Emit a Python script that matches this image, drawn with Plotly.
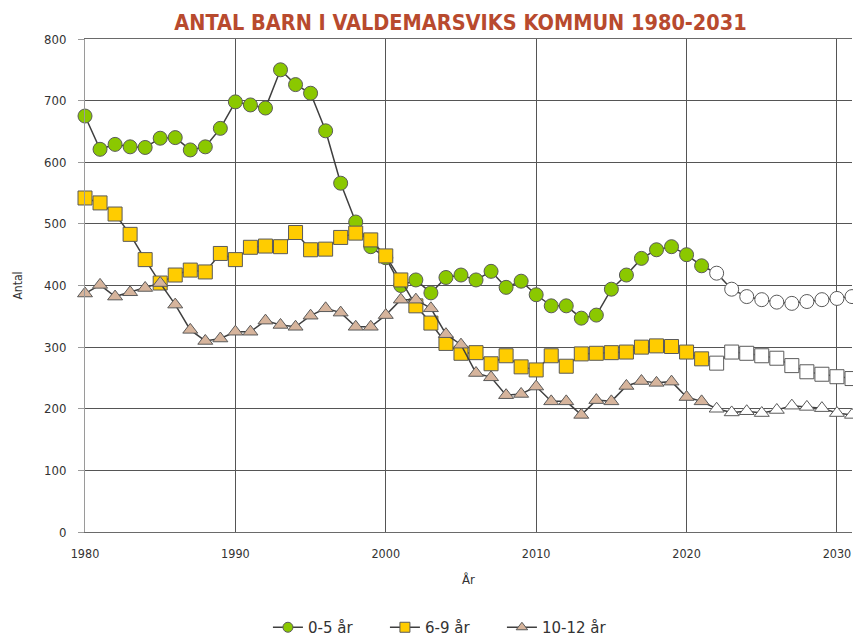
import plotly.graph_objects as go

years = list(range(1980, 2032))
first_projection_year = 2022

age_0_5 = [675, 621, 629, 625, 624, 639, 640, 620, 625, 655,
           698, 693, 688, 750, 726, 712, 651, 566, 503, 463,
           445, 400, 409, 388, 413, 417, 409, 423, 397, 407,
           385, 367, 367, 347, 352, 394, 417, 444, 458, 463,
           450, 432, 420, 394, 382, 377, 373, 371, 374, 377,
           379, 382]
age_6_9 = [542, 534, 516, 483, 442, 404, 417, 425, 422, 452,
           442, 462, 464, 463, 486, 458, 459, 478, 485, 474,
           448, 409, 367, 339, 306, 290, 291, 273, 286, 268,
           263, 286, 269, 289, 290, 291, 292, 300, 302, 301,
           292, 281, 274, 292, 290, 286, 282, 270, 260, 256,
           252, 249]
age_10_12 = [387, 401, 382, 389, 396, 404, 369, 328, 310, 314,
             325, 325, 343, 336, 333, 351, 363, 356, 333, 333,
             352, 377, 377, 363, 321, 304, 258, 251, 222, 224,
             236, 212, 212, 190, 214, 212, 237, 245, 242, 244,
             219, 212, 200, 194, 196, 193, 198, 205, 203, 201,
             193, 190]

series = [
    ("0-5 år", age_0_5, "circle", "#8BC800"),
    ("6-9 år", age_6_9, "square", "#FFCC00"),
    ("10-12 år", age_10_12, "triangle-up", "#D6B49C"),
]

fig = go.Figure()
for name, vals, sym, col in series:
    colors = [col if y < first_projection_year else "#FFFFFF" for y in years]
    fig.add_trace(go.Scatter(
        x=years, y=vals, name=name, mode="lines+markers", showlegend=False,
        line=dict(color="#3F3F3F", width=1.5),
        marker=dict(symbol=sym, size=14 if sym != "triangle-up" else 13,
                    color=colors, line=dict(color="#5A5A5A", width=1)),
        cliponaxis=False,
    ))
# legend entries (smaller symbols as in the reference legend)
for name, vals, sym, col in series:
    fig.add_trace(go.Scatter(
        x=[None], y=[None], name=name, mode="lines+markers",
        line=dict(color="#3F3F3F", width=1.5),
        marker=dict(symbol=sym, size=10, color=col, line=dict(color="#5A5A5A", width=1)),
    ))

fig.update_layout(
    width=853, height=636,
    margin=dict(l=77, r=9, t=31, b=112),
    paper_bgcolor="white", plot_bgcolor="white",
    font=dict(family="DejaVu Sans Condensed, Liberation Sans", size=13, color="#333333"),
    title=dict(text="<b>ANTAL BARN I VALDEMARSVIKS KOMMUN 1980-2031</b>",
               x=0.5305, xanchor="center", y=0.978, yanchor="middle",
               font=dict(family="DejaVu Sans Condensed, Liberation Sans", size=21.5, color="#B84A2E")),
    xaxis=dict(range=[1980, 2031], tickvals=[1980, 1990, 2000, 2010, 2020, 2030],
               showgrid=True, gridcolor="#555555", gridwidth=1.3,
               zeroline=False, showline=True, linecolor="#6A6A6A", mirror=True,
               ticks="", ticklabelstandoff=10,
               tickfont=dict(size=12.5), automargin=False,
               title=dict(text="År", font=dict(size=13), standoff=14)),
    yaxis=dict(range=[0, 800], dtick=100,
               showgrid=True, gridcolor="#555555", gridwidth=1.3,
               zeroline=False, showline=True, linecolor="#9A9A9A",
               ticks="outside", ticklen=6, tickcolor="#9A9A9A",
               ticklabelstandoff=9,
               tickfont=dict(size=13), automargin=False,
               title=dict(text="Antal", font=dict(size=12), standoff=18)),
    legend=dict(orientation="h", x=0.2385, xanchor="left",
                yref="container", y=-0.008, yanchor="bottom",
                entrywidth=72,
                font=dict(family="DejaVu Sans, Liberation Sans", size=15)),
)

fig.write_html("out.html")
